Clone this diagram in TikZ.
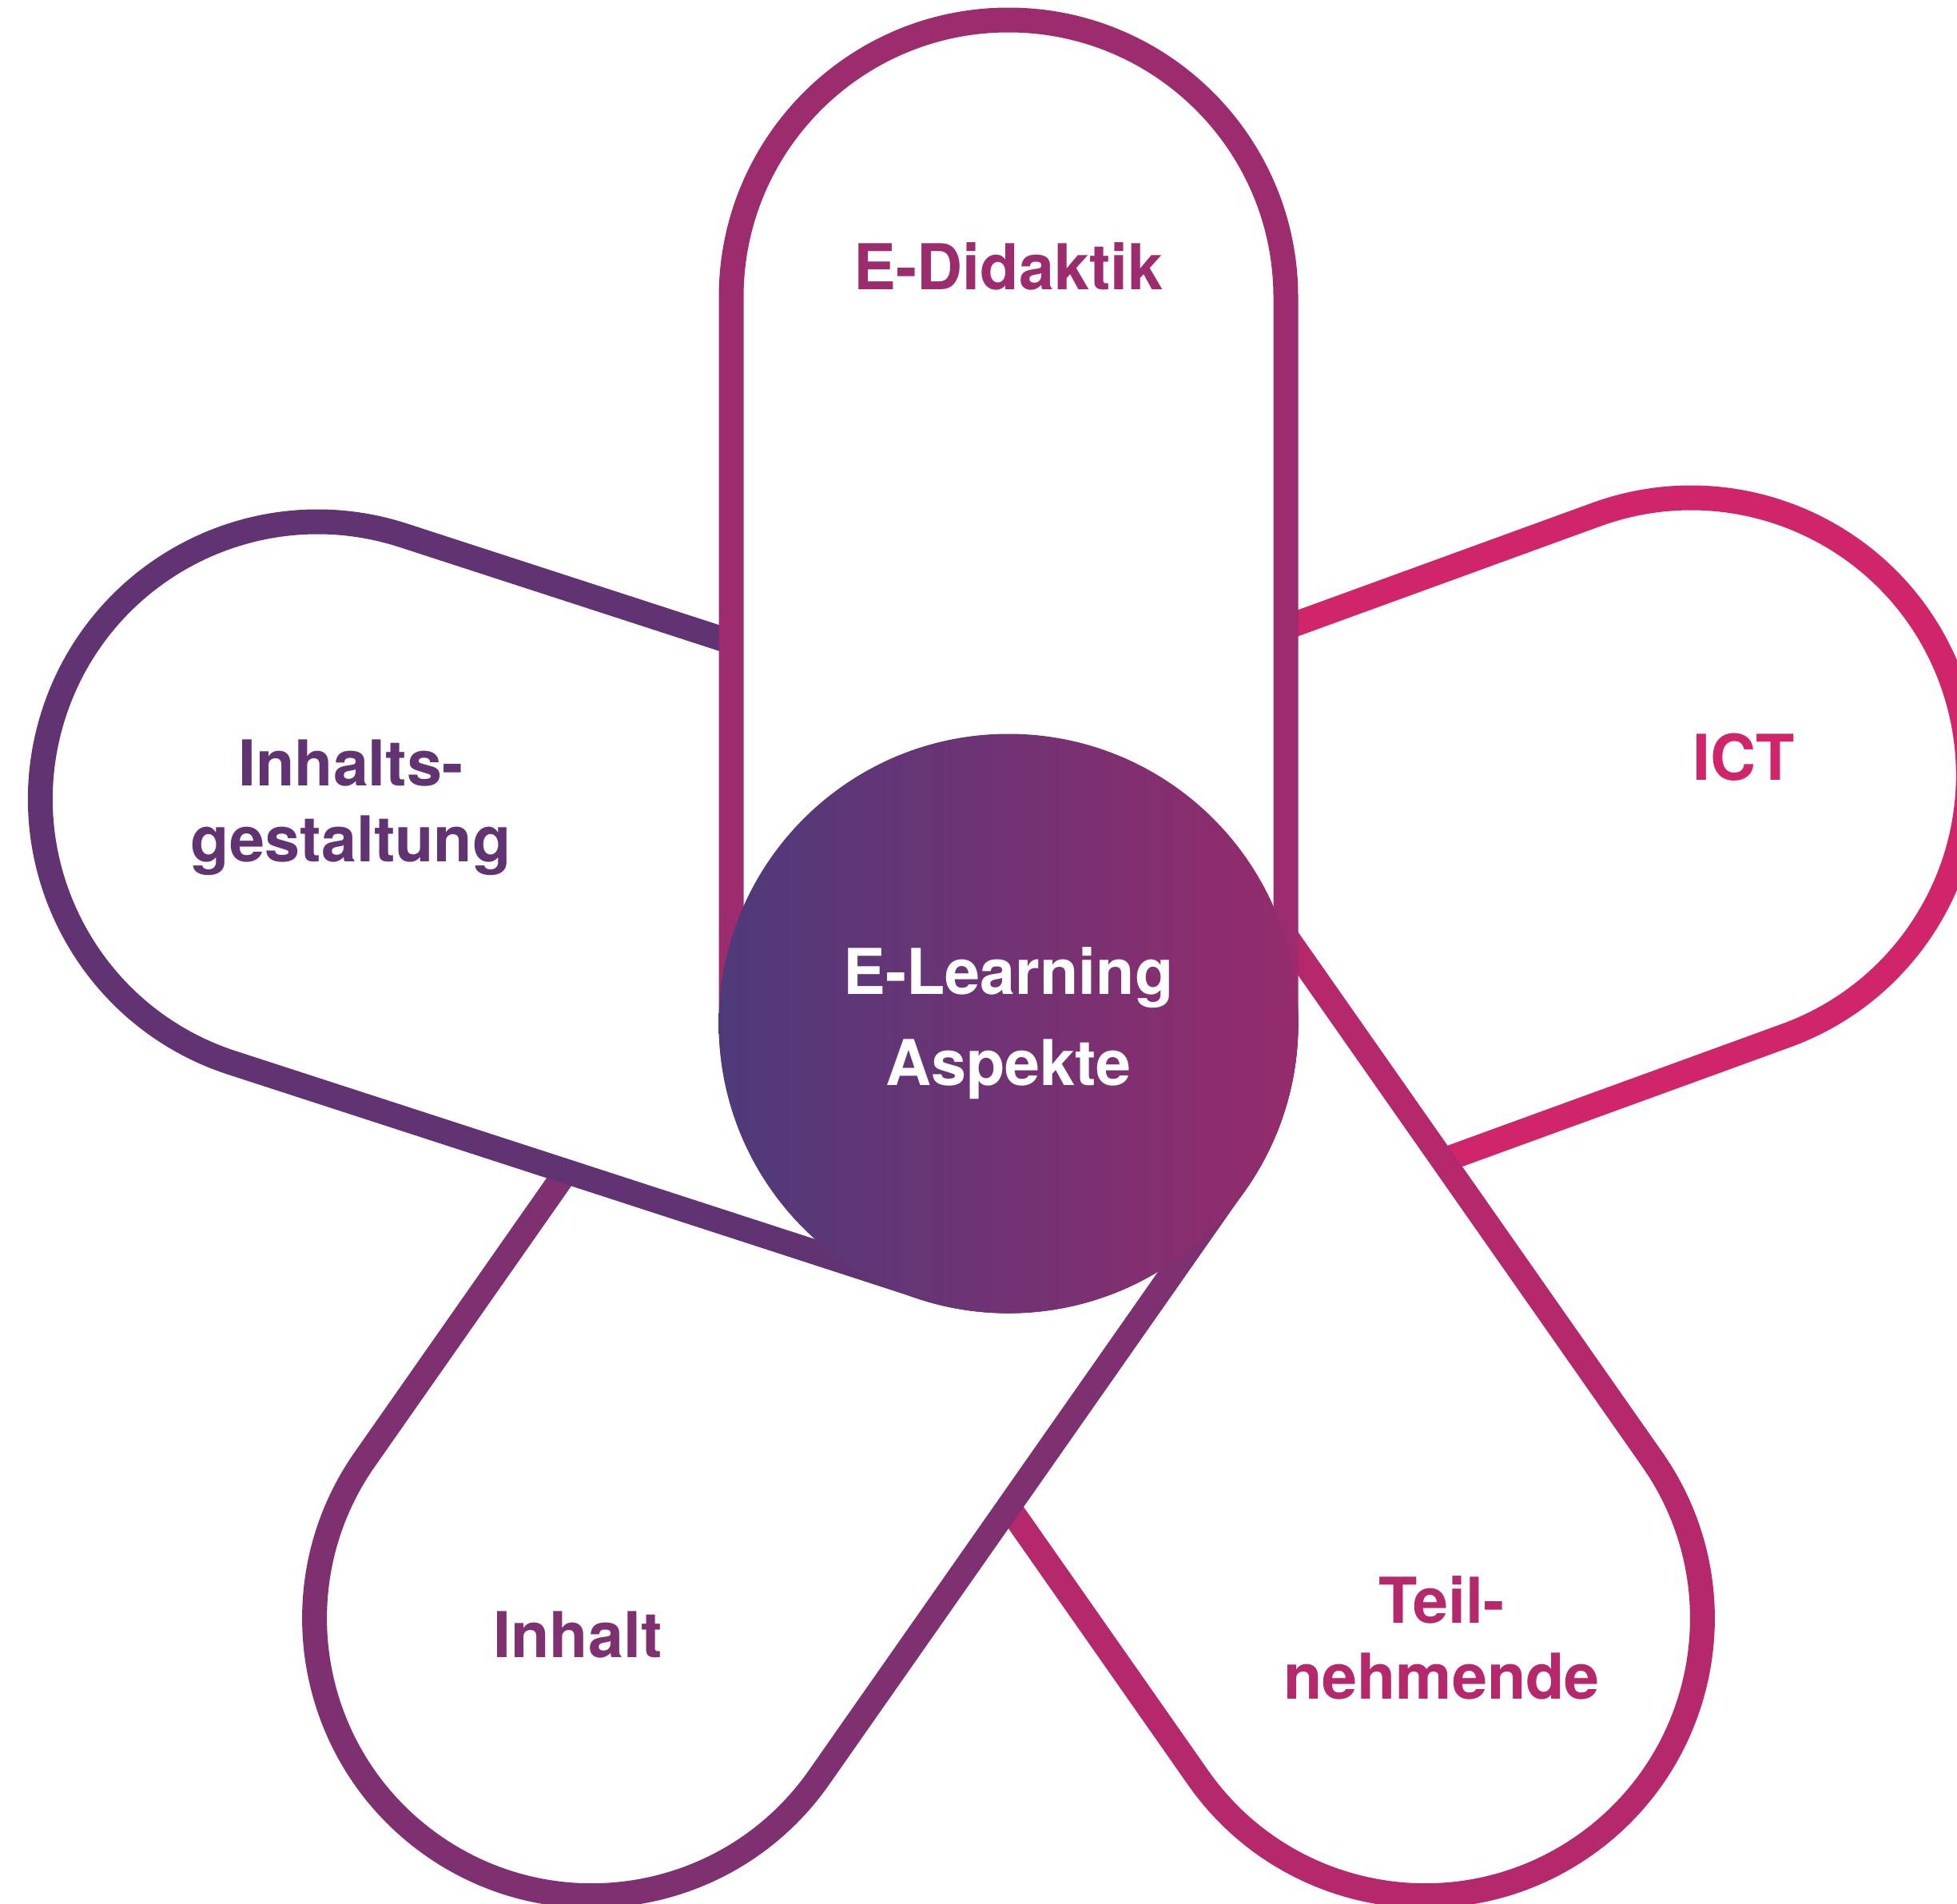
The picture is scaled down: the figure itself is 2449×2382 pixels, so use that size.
\documentclass[tikz,border=0pt]{standalone}
\usepackage{fontspec}
\setmainfont{TeX Gyre Heros}
\definecolor{ictcol}{HTML}{D0256B}
\definecolor{teilcol}{HTML}{B5286B}
\definecolor{inhaltcol}{HTML}{7E3070}
\definecolor{gestaltcol}{HTML}{623372}
\definecolor{didaktikcol}{HTML}{9D2C6E}
\definecolor{coreleft}{HTML}{4E3A7A}
\definecolor{coreright}{HTML}{952B6C}

\begin{document}
\begin{tikzpicture}[x=0.1mm, y=-0.1mm]

\tikzset{petal/.style = {draw=#1, fill=white, line width=3.1mm}}
\tikzset{petaltext/.style = {text=#1, inner sep=0pt, align=center, font=\bfseries\fontsize{22.5}{27}\selectfont}}
\useasboundingbox (0,0) rectangle (2449,2382);
\clip (0,0) rectangle (2449,2382);
\coordinate (c) at (1262,1281);
%petals
\foreach \ang/\col in {-20/ictcol, 55/teilcol, 125/inhaltcol, 198/gestaltcol, -90/didaktikcol}
  \draw[petal=\col] ([shift={(\ang+90:347)}]c) -- ++(\ang:909)
    arc[start angle=\ang+90, end angle=\ang-90, radius=347] -- ++(\ang+180:909)
    arc[start angle=\ang-90, end angle=\ang-270, radius=347] -- cycle;
%centre
\node[circle, minimum size=72.5mm, inner sep=0pt, left color=coreleft, right color=coreright,
  petaltext=white] (core) at (c) {E-Learning\\[5.4pt]Aspekte};
%labels
\node[petaltext=didaktikcol, anchor=base] (didaktik) at (1262,362) {E-Didaktik};
\node[petaltext=ictcol, anchor=base] (ict) at (2182,976) {ICT};
\node[petaltext=gestaltcol] (gestaltung) at (439,1011) {Inhalts-\\gestaltung};
\node[petaltext=inhaltcol, anchor=base] (inhalt) at (723,2074) {Inhalt};
\node[petaltext=teilcol] (teil) at (1804,2050) {Teil-\\nehmende};

\end{tikzpicture}
\end{document}
